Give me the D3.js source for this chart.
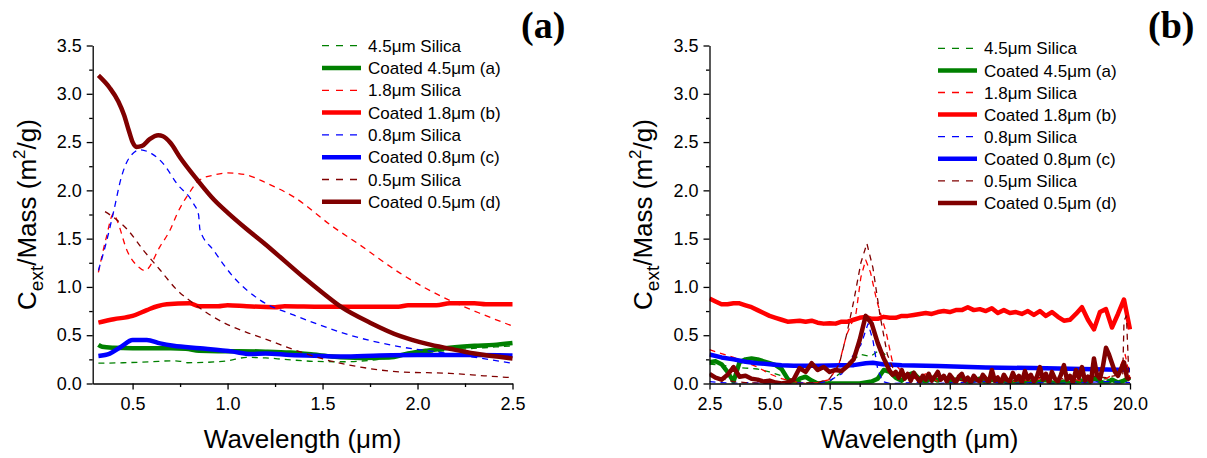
<!DOCTYPE html>
<html>
<head>
<meta charset="utf-8">
<script src="https://cdn.jsdelivr.net/npm/d3@7"></script>
<style>
  body { margin: 0; background: #fff; }
  text { font-family: "Liberation Sans", Arial, sans-serif; fill: #000; }
</style>
</head>
<body>
<svg id="chart" width="1207" height="458"></svg>
<script>
// ---------- panel (a): [wavelength (um), Cext/Mass (m2/g)] ----------
const silica45A = [[0.32,0.21],[0.45,0.215],[0.6,0.225],[0.7,0.235],[0.75,0.23],[0.79,0.215],[0.9,0.22],[1.0,0.235],[1.1,0.27],[1.2,0.265],[1.3,0.25],[1.45,0.23],[1.6,0.225],[1.75,0.24],[1.9,0.28],[2.05,0.32],[2.2,0.35],[2.35,0.37],[2.5,0.39]];
const coated45A = [[0.32,0.40],[0.34,0.38],[0.40,0.37],[0.5,0.365],[0.6,0.365],[0.7,0.365],[0.78,0.36],[0.85,0.34],[0.95,0.335],[1.05,0.335],[1.2,0.33],[1.33,0.32],[1.45,0.30],[1.55,0.28],[1.7,0.265],[1.85,0.27],[1.95,0.31],[2.05,0.34],[2.17,0.37],[2.3,0.39],[2.4,0.40],[2.5,0.42]];
const silica18A = [[0.32,1.15],[0.36,1.5],[0.40,1.76],[0.42,1.68],[0.47,1.38],[0.53,1.21],[0.565,1.17],[0.645,1.42],[0.70,1.60],[0.735,1.76],[0.79,1.95],[0.855,2.11],[0.93,2.16],[1.0,2.18],[1.1,2.16],[1.2,2.08],[1.35,1.93],[1.55,1.63],[1.7,1.43],[1.91,1.14],[2.17,0.86],[2.35,0.71],[2.5,0.595]];
const coated18A = [[0.32,0.63],[0.4,0.665],[0.5,0.70],[0.575,0.76],[0.63,0.80],[0.68,0.82],[0.8,0.83],[0.85,0.80],[0.95,0.80],[1.0,0.81],[1.1,0.80],[1.25,0.79],[1.3,0.80],[1.5,0.795],[1.9,0.795],[1.95,0.81],[2.1,0.81],[2.17,0.83],[2.3,0.83],[2.36,0.82],[2.5,0.82]];
const silica08A = [[0.32,1.17],[0.36,1.45],[0.40,1.78],[0.44,2.13],[0.48,2.33],[0.54,2.42],[0.6,2.38],[0.66,2.28],[0.733,2.07],[0.82,1.865],[0.847,1.75],[0.855,1.59],[0.926,1.38],[1.03,1.105],[1.17,0.865],[1.347,0.71],[1.487,0.605],[1.645,0.50],[1.91,0.38],[2.17,0.31],[2.5,0.21]];
const coated08A = [[0.32,0.285],[0.38,0.31],[0.44,0.38],[0.5,0.45],[0.575,0.45],[0.645,0.415],[0.715,0.39],[0.855,0.365],[1.03,0.33],[1.12,0.305],[1.2,0.31],[1.33,0.295],[1.5,0.285],[1.6,0.28],[1.8,0.29],[2.0,0.295],[2.3,0.295],[2.5,0.29]];
const silica05A = [[0.355,1.78],[0.40,1.72],[0.47,1.60],[0.557,1.38],[0.645,1.175],[0.733,0.97],[0.82,0.83],[0.9,0.72],[1.0,0.61],[1.1,0.53],[1.2,0.46],[1.35,0.35],[1.52,0.245],[1.7,0.17],[1.91,0.12],[2.17,0.105],[2.35,0.08],[2.5,0.06]];
const coated05A = [[0.32,3.19],[0.38,3.06],[0.425,2.92],[0.455,2.78],[0.48,2.62],[0.50,2.50],[0.52,2.45],[0.55,2.46],[0.59,2.53],[0.635,2.57],[0.66,2.56],[0.70,2.49],[0.75,2.34],[0.84,2.11],[0.93,1.90],[1.0,1.77],[1.1,1.60],[1.2,1.44],[1.3,1.27],[1.4,1.10],[1.5,0.94],[1.6,0.79],[1.75,0.63],[1.91,0.49],[2.05,0.41],[2.17,0.36],[2.3,0.31],[2.5,0.26]];

// ---------- panel (b) ----------
const wlGridB = [2.5,2.75,3,3.25,3.5,3.75,4,4.25,4.5,4.75,5,5.25,5.5,5.75,6,6.25,6.5,6.75,7,7.25,7.5,7.75,8,8.25,8.5,8.75,9,9.25,9.5,9.75,10,10.25,10.5,10.75,11,11.25,11.5,11.75,12,12.25,12.5,12.75,13,13.25,13.5,13.75,14,14.25,14.5,14.75,15,15.25,15.5,15.75,16,16.25,16.5,16.75,17,17.25,17.5,17.75,18,18.25,18.5,18.75,19,19.25,19.5,19.75,20];
const wlFineB = [10,10.125,10.25,10.375,10.5,10.625,10.75,10.875,
  11,11.125,11.25,11.375,11.5,11.625,11.75,11.875,
  12,12.125,12.25,12.375,12.5,12.625,12.75,12.875,
  13,13.125,13.25,13.375,13.5,13.625,13.75,13.875,
  14,14.125,14.25,14.375,14.5,14.625,14.75,14.875,
  15,15.125,15.25,15.375,15.5,15.625,15.75,15.875,
  16,16.125,16.25,16.375,16.5,16.625,16.75,16.875,
  17,17.125,17.25,17.375,17.5,17.625,17.75,17.875,
  18,18.125,18.25,18.375,18.5,18.625,18.75,18.875,
  19,19.125,19.25,19.375,19.5,19.625,19.75,19.875,
  20];
const coated45B = [0.22,0.23,0.20,0.12,0.02,0.22,0.25,0.26,0.25,0.23,
  0.21,0.19,0.15,0.05,0.00,0.05,0.07,0.03,0.00,0.00,
  0.00,0.00,0.00,0.00,0.00,0.00,0.01,0.02,0.05,0.14,
  0.12,0.06,0.03,0.09,0.11,0.04,0.02,0.06,0.03,0.07,
  0.02,0.04,0.06,0.01,0.03,0.05,0.01,0.04,0.02,0.03,
  0.00,0.02,0.01,0.03,0.00,0.02,0.04,0.01,0.00,0.02,
  0.00,0.01,0.03,0.00,0.06,0.02,0.00,0.04,0.01,0.03,
  0.06];
const coated18B = [0.88,0.85,0.82,0.82,0.83,0.83,0.81,0.79,0.76,0.73,
  0.70,0.68,0.66,0.64,0.645,0.65,0.64,0.65,0.63,0.62,
  0.625,0.62,0.64,0.64,0.66,0.68,0.69,0.67,0.67,0.69,
  0.68,0.68,0.70,0.70,0.71,0.72,0.73,0.72,0.74,0.75,
  0.74,0.76,0.76,0.79,0.76,0.77,0.75,0.78,0.73,0.76,
  0.73,0.74,0.72,0.75,0.71,0.75,0.70,0.74,0.69,0.65,
  0.66,0.72,0.79,0.66,0.56,0.74,0.77,0.58,0.72,0.87,
  0.56];
// coated 0.5 um: 2.5-9.75 on the coarse grid, 10-20 on the fine grid
const coated05Blo = [0.10,0.06,0.04,0.09,0.17,0.07,0.08,0.05,0.04,0.02,
  0.03,0.01,0.00,0.01,0.04,0.16,0.12,0.21,0.14,0.17,
  0.12,0.14,0.13,0.18,0.25,0.45,0.70,0.62,0.42,0.26];
const coated05Bhi = [0.13,0.09,0.12,0.06,0.14,0.05,0.10,0.03,
  0.11,0.06,0.02,0.08,0.04,0.10,0.03,0.07,
  0.12,0.04,0.08,0.02,0.09,0.05,0.01,0.07,
  0.10,0.03,0.06,0.01,0.08,0.04,0.02,0.09,
  0.05,0.01,0.14,0.03,0.06,0.00,0.09,0.04,
  0.02,0.11,0.04,0.08,0.01,0.13,0.05,0.09,
  0.02,0.07,0.17,0.04,0.10,0.01,0.12,0.05,
  0.02,0.09,0.19,0.04,0.08,0.01,0.14,0.06,
  0.17,0.03,0.07,0.02,0.26,0.09,0.05,0.18,
  0.37,0.30,0.21,0.12,0.08,0.15,0.22,0.06,
  0.04];
const silica45B = [[2.5,0.20],[3,0.19],[3.5,0.17],[4,0.16],[4.5,0.15],[5,0.12],[5.5,0.08],[6,0.03],[6.5,0.01],[7,0.0],[7.5,0.02],[8,0.12],[8.5,0.25],[8.8,0.30],[9.2,0.28],[9.6,0.35],[9.8,0.3],[10,0.12],[10.5,0.05],[11,0.1],[11.5,0.04],[12,0.06],[13,0.03],[14,0.04],[15,0.02],[16,0.03],[17,0.01],[18,0.02],[19,0.05],[19.5,0.01],[20,0.08]];
const silica18B = [[2.5,0.35],[3,0.31],[3.5,0.27],[4,0.22],[4.5,0.17],[5,0.1],[5.5,0.05],[6,0.02],[6.5,0.0],[7,0.01],[7.5,0.04],[7.9,0.21],[8.2,0.5],[8.6,0.73],[8.8,1.1],[9.0,1.28],[9.2,1.15],[9.46,0.86],[9.86,0.52],[10.1,0.24],[10.5,0.12],[11,0.05],[11.5,0.1],[12,0.02],[12.5,0.07],[13,0.01],[13.5,0.05],[14,0.02],[14.5,0.08],[15,0.01],[15.5,0.04],[16,0.02],[16.5,0.09],[17,0.03],[17.5,0.06],[18,0.02],[18.5,0.1],[19,0.05],[19.5,0.12],[19.8,0.3],[20,0.05]];
const silica08B = [[2.5,0.02],[3,0.01],[3.5,0.0],[4,0.01],[5,0.0],[6,0.01],[7,0.0],[7.5,0.03],[8,0.1],[8.5,0.3],[8.8,0.4],[9.1,0.62],[9.3,0.45],[9.5,0.15],[9.7,0.02],[10,0.0],[11,0.01],[12,0.0],[13,0.01],[14,0.02],[15,0.0],[16,0.01],[17,0.0],[18,0.01],[19,0.02],[20,0.01]];
const coated08B = [[2.5,0.30],[3,0.27],[3.5,0.25],[4,0.225],[4.5,0.21],[5,0.20],[5.5,0.19],[6,0.185],[7,0.185],[8,0.19],[8.5,0.19],[9,0.21],[9.3,0.215],[9.7,0.20],[10.5,0.19],[12,0.18],[14,0.165],[16,0.16],[18,0.15],[20,0.14]];
const silica05B = [[2.5,0.1],[3,0.05],[3.5,0.02],[4,0.01],[5,0.0],[6,0.0],[7,0.01],[7.5,0.05],[7.9,0.2],[8.2,0.5],[8.5,0.85],[8.8,1.25],[9.05,1.45],[9.3,1.2],[9.6,0.7],[9.9,0.3],[10.2,0.12],[11,0.05],[12,0.08],[13,0.03],[14,0.06],[15,0.02],[16,0.07],[17,0.04],[18,0.09],[19,0.06],[19.7,0.1],[19.75,0.65],[19.85,0.7],[19.95,0.1],[20,0.05]];

// ---------- legend / styles ----------
const legendLabels = ['4.5\u03bcm Silica', 'Coated 4.5\u03bcm (a)', '1.8\u03bcm Silica', 'Coated 1.8\u03bcm (b)',
  '0.8\u03bcm Silica', 'Coated 0.8\u03bcm (c)', '0.5\u03bcm Silica', 'Coated 0.5\u03bcm (d)'];
const seriesColors = ['#008000', '#008000', '#ff0000', '#ff0000', '#0000ff', '#0000ff', '#800000', '#800000'];
const seriesDashed = [true, false, true, false, true, false, true, false];

const yTicks = [0, 0.5, 1.0, 1.5, 2.0, 2.5, 3.0, 3.5];
const yMinor = [0.25, 0.75, 1.25, 1.75, 2.25, 2.75, 3.25];
const xTicksA = [0.5, 1.0, 1.5, 2.0, 2.5];
const xMinorA = [0.75, 1.25, 1.75, 2.25];
const xTicksB = [2.5, 5.0, 7.5, 10.0, 12.5, 15.0, 17.5, 20.0];
const xMinorB = [3.75, 6.25, 8.75, 11.25, 13.75, 16.25, 18.75];

const fromGrid = (xs, vals) => vals.map((v, i) => [xs[i], v]);
const coated05B = fromGrid(wlGridB, coated05Blo).concat(fromGrid(wlFineB, coated05Bhi));

const panels = [
  {
    id: 'a', left: 92.7, right: 512.5, domain: [0.29, 2.5],
    ticks: xTicksA, minor: xMinorA,
    series: [silica45A, coated45A, silica18A, coated18A, silica08A, coated08A, silica05A, coated05A],
    curve: d3.curveMonotoneX,
    legendX: 322, legendY: 45.7, legendStep: 22.3,
    tag: '(a)', tagX: 521, titleX: 36
  },
  {
    id: 'b', left: 709.5, right: 1130, domain: [2.5, 20],
    ticks: xTicksB, minor: xMinorB,
    series: [silica45B, fromGrid(wlGridB, coated45B), silica18B, fromGrid(wlGridB, coated18B), silica08B, coated08B, silica05B, coated05B],
    curve: d3.curveLinear,
    legendX: 938, legendY: 48.3, legendStep: 22.1,
    tag: '(b)', tagX: 1148, titleX: 652
  }
];

const plotTop = 45.5, plotBottom = 383.5;
const svg = d3.select('#chart');
svg.append('rect').attr('width', 1207).attr('height', 458).attr('fill', '#fff');

const y = d3.scaleLinear().domain([0, 3.5]).range([plotBottom, plotTop]);

panels.forEach(p => {
  const x = d3.scaleLinear().domain(p.domain).range([p.left, p.right]);
  const g = svg.append('g');

  g.append('clipPath').attr('id', 'clip-' + p.id)
    .append('rect')
    .attr('x', p.left).attr('y', plotTop - 2)
    .attr('width', p.right - p.left + 2).attr('height', plotBottom - plotTop + 2);

  const line = d3.line().x(d => x(d[0])).y(d => y(d[1])).curve(p.curve);

  const plot = g.append('g').attr('clip-path', `url(#clip-${p.id})`);
  p.series.forEach((s, i) => {
    plot.append('path')
      .datum(s)
      .attr('fill', 'none')
      .attr('stroke', seriesColors[i])
      .attr('stroke-width', seriesDashed[i] ? 1.3 : 4.5)
      .attr('stroke-dasharray', seriesDashed[i] ? '6,5' : null)
      .attr('stroke-linejoin', 'round')
      .attr('d', line);
  });

  // axes
  const xAxis = g.append('g')
    .attr('transform', `translate(0,${plotBottom})`)
    .call(d3.axisBottom(x).tickValues(p.ticks).tickFormat(d3.format('.1f')).tickSize(6).tickSizeOuter(0).tickPadding(8));
  g.append('g')
    .attr('transform', `translate(0,${plotBottom})`)
    .call(d3.axisBottom(x).tickValues(p.minor).tickFormat('').tickSize(3.5).tickSizeOuter(0))
    .select('.domain').remove();

  const yAxis = g.append('g')
    .attr('transform', `translate(${p.left},0)`)
    .call(d3.axisLeft(y).tickValues(yTicks).tickFormat(d3.format('.1f')).tickSize(6).tickSizeOuter(0).tickPadding(5));
  g.append('g')
    .attr('transform', `translate(${p.left},0)`)
    .call(d3.axisLeft(y).tickValues(yMinor).tickFormat('').tickSize(3.5).tickSizeOuter(0))
    .select('.domain').remove();

  g.selectAll('.domain, .tick line').attr('stroke', '#000').attr('stroke-width', 1.3);
  [xAxis, yAxis].forEach(a => a.selectAll('text')
    .style('font-family', '"Liberation Sans", Arial, sans-serif')
    .style('font-size', '18px').attr('fill', '#000'));

  // axis titles
  g.append('text')
    .attr('x', (p.left + p.right) / 2).attr('y', 448)
    .attr('text-anchor', 'middle')
    .style('font-size', '26px')
    .text('Wavelength (\u03bcm)');

  const yt = g.append('text')
    .attr('transform', `translate(${p.titleX},${(plotTop + plotBottom) / 2}) rotate(-90)`)
    .attr('text-anchor', 'middle')
    .style('font-size', '26px');
  yt.append('tspan').text('C');
  yt.append('tspan').attr('dy', 7).style('font-size', '19px').text('ext');
  yt.append('tspan').attr('dy', -7).text('/Mass (m');
  yt.append('tspan').attr('dy', -11).style('font-size', '17px').text('2');
  yt.append('tspan').attr('dy', 11).text('/g)');

  // legend
  const lg = g.append('g');
  legendLabels.forEach((lab, i) => {
    const ly = p.legendY + i * p.legendStep;
    lg.append('line')
      .attr('x1', p.legendX).attr('x2', p.legendX + 39)
      .attr('y1', ly).attr('y2', ly)
      .attr('stroke', seriesColors[i])
      .attr('stroke-width', seriesDashed[i] ? 1.3 : 4.5)
      .attr('stroke-dasharray', seriesDashed[i] ? '7,7' : null);
    lg.append('text')
      .attr('x', p.legendX + 46).attr('y', ly)
      .attr('dy', '0.36em')
      .style('font-size', '17px')
      .text(lab);
  });

  // panel tag
  g.append('text')
    .attr('x', p.tagX).attr('y', 38)
    .style('font-family', '"Liberation Serif", "Times New Roman", serif')
    .style('font-weight', 'bold')
    .style('font-size', '38px')
    .text(p.tag);
});
</script>
</body>
</html>
